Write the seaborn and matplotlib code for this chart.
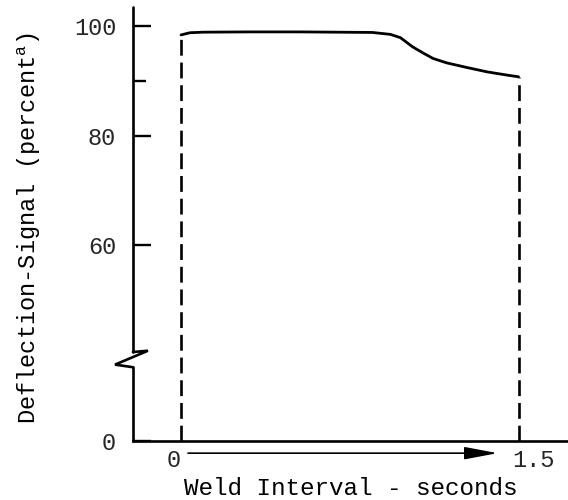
import numpy as np
import pandas as pd
import matplotlib.pyplot as plt
from matplotlib.ticker import FixedLocator
import seaborn as sns

sns.set_theme(style='white')
plt.rcParams['font.family'] = ['Liberation Mono', 'DejaVu Sans Mono']
plt.rcParams['mathtext.fontset'] = 'custom'
plt.rcParams['mathtext.rm'] = 'Liberation Mono'

# weld interval (s) vs deflection signal (percent)
weld_time = [0.0, 0.04, 0.10, 0.30, 0.53, 0.85, 0.93, 0.975, 1.03, 1.08,
             1.12, 1.18, 1.27, 1.36, 1.45, 1.50]
signal_pct = [98.4, 98.8, 98.9, 98.95, 98.95, 98.85, 98.5, 97.9, 96.2, 95.0,
              94.1, 93.3, 92.45, 91.65, 91.05, 90.75]
interval_ends = [0.0, 1.5]
ytick_vals = [60, 80, 100]
minor_ytick_vals = [90]

df = pd.DataFrame({'t': weld_time, 's': signal_pct})

# broken axis: "0" sits well below 60
zero_pos = 24.2
ylim = (zero_pos, 103.5)
xlim = (-0.214, 1.72)

fig = plt.figure(figsize=(5.68, 5.0), dpi=100)
ax = fig.add_axes([0.234, 0.118, 0.766, 0.868])

sns.lineplot(data=df, x='t', y='s', ax=ax, color='black', linewidth=2.0)

end_vals = np.interp(interval_ends, weld_time, signal_pct)
for xe, ye in zip(interval_ends, end_vals):
    ax.plot([xe, xe], [ylim[0], ye], color='black', linewidth=1.9,
            linestyle=(0, (6, 2.6)), solid_capstyle='butt')

ax.set_xlim(*xlim)
ax.set_ylim(*ylim)

# spines
for s in ['top', 'right', 'left']:
    ax.spines[s].set_visible(False)
ax.spines['bottom'].set_linewidth(1.9)
ax.spines['bottom'].set_color('black')

# left axis with a break
kw = dict(transform=ax.transAxes, color='black', linewidth=1.9, clip_on=False,
          solid_joinstyle='miter')
ax.plot([0, 0], [0, 0.17], **kw)
ax.plot([0, -0.041, 0.0345, 0], [0.17, 0.176, 0.208, 0.205], **kw)
ax.plot([0, 0], [0.205, 1.0], **kw)

ax.set_yticks([zero_pos] + ytick_vals)
ax.set_yticklabels(['0'] + [str(v) for v in ytick_vals])
ax.yaxis.set_minor_locator(FixedLocator(minor_ytick_vals))
ax.tick_params(axis='y', which='major', direction='in', length=13, width=1.7,
               color='black', pad=12, labelsize=17, left=True)
ax.tick_params(axis='y', which='minor', direction='in', length=9.5, width=1.7,
               color='black', left=True)
ax.set_xticks([])

# x annotations: 0 -> 1.5 arrow
ax.annotate('0', xy=(interval_ends[0], 0), xycoords=('data', 'axes fraction'),
            xytext=(-5, -14), textcoords='offset points', ha='center', va='center',
            fontsize=17)
ax.annotate('1.5', xy=(interval_ends[1], 0), xycoords=('data', 'axes fraction'),
            xytext=(11, -14), textcoords='offset points', ha='center', va='center',
            fontsize=17)
ax.annotate('', xy=(interval_ends[1], -0.028), xycoords=('data', 'axes fraction'),
            xytext=(interval_ends[0], -0.028), textcoords=('data', 'axes fraction'),
            arrowprops=dict(arrowstyle='-|>,head_length=1.7,head_width=0.32',
                            color='black', linewidth=1.2, shrinkA=5, shrinkB=15))

ax.set_xlabel('Weld Interval - seconds', fontsize=17.5, color='black')
ax.xaxis.set_label_coords(0.5, -0.083)
ax.set_ylabel('Deflection-Signal (percent$^{\\mathrm{a}}$)', fontsize=17, color='black')
ax.yaxis.set_label_coords(-0.207, 0.49)

plt.savefig('out.png', dpi=100)
